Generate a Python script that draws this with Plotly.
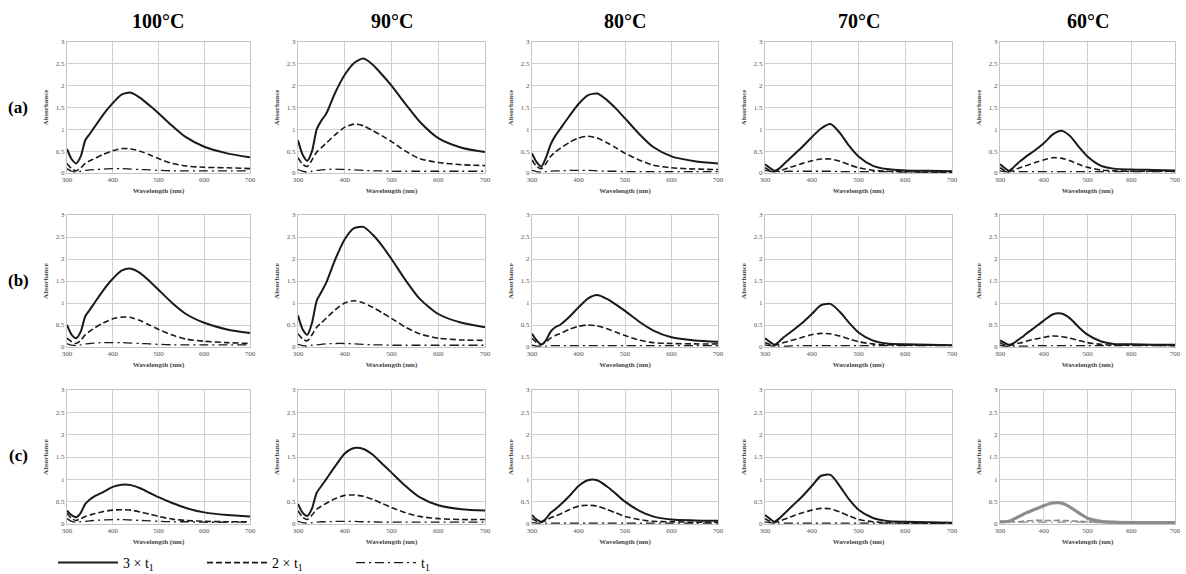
import plotly.graph_objects as go
from plotly.subplots import make_subplots

# ---------------- data ----------------
WL = [300, 310, 320, 330, 340, 350, 360, 380, 400, 420, 440, 460, 480, 500, 530, 560, 600, 650, 700]

TEMPS = ["100°C", "90°C", "80°C", "70°C", "60°C"]
ROWS = ["(a)", "(b)", "(c)"]
SERIES = ["3 × t<sub>1</sub>", "2 × t<sub>1</sub>", "t<sub>1</sub>"]
X_TICKS = [300, 400, 500, 600, 700]
Y_TICKS = [0, 0.5, 1, 1.5, 2, 2.5, 3]
Y_TICK_TEXT = ["0", "0.5", "1", "1.5", "2", "2.5", "3"]

# row (a)
A100_3 = [0.55, 0.32, 0.22, 0.38, 0.75, 0.90, 1.05, 1.35, 1.60, 1.80, 1.84, 1.72, 1.55, 1.37, 1.08, 0.82, 0.60, 0.45, 0.36]
A100_2 = [0.22, 0.10, 0.05, 0.12, 0.22, 0.28, 0.33, 0.43, 0.51, 0.56, 0.55, 0.50, 0.42, 0.33, 0.22, 0.16, 0.13, 0.12, 0.10]
A100_1 = [0.10, 0.04, 0.02, 0.04, 0.06, 0.07, 0.08, 0.09, 0.10, 0.10, 0.09, 0.08, 0.07, 0.06, 0.05, 0.05, 0.05, 0.05, 0.05]
A90_3 = [0.75, 0.42, 0.28, 0.50, 1.00, 1.20, 1.35, 1.85, 2.25, 2.52, 2.62, 2.48, 2.25, 2.00, 1.58, 1.18, 0.80, 0.58, 0.48]
A90_2 = [0.35, 0.20, 0.15, 0.30, 0.48, 0.58, 0.68, 0.88, 1.05, 1.12, 1.08, 0.97, 0.85, 0.72, 0.50, 0.33, 0.24, 0.19, 0.17]
A90_1 = [0.08, 0.04, 0.02, 0.04, 0.06, 0.07, 0.08, 0.09, 0.08, 0.07, 0.06, 0.05, 0.05, 0.04, 0.04, 0.04, 0.04, 0.04, 0.04]
A80_3 = [0.45, 0.25, 0.15, 0.35, 0.65, 0.85, 1.00, 1.30, 1.58, 1.78, 1.82, 1.68, 1.48, 1.25, 0.90, 0.60, 0.38, 0.27, 0.22]
A80_2 = [0.30, 0.15, 0.10, 0.22, 0.38, 0.48, 0.56, 0.70, 0.80, 0.84, 0.80, 0.70, 0.58, 0.45, 0.30, 0.18, 0.12, 0.09, 0.08]
A80_1 = [0.06, 0.03, 0.02, 0.03, 0.04, 0.05, 0.05, 0.06, 0.06, 0.06, 0.05, 0.04, 0.04, 0.03, 0.03, 0.03, 0.03, 0.03, 0.03]
A70_3 = [0.20, 0.12, 0.05, 0.10, 0.20, 0.30, 0.40, 0.60, 0.82, 1.02, 1.12, 0.92, 0.62, 0.38, 0.17, 0.09, 0.06, 0.05, 0.04]
A70_2 = [0.12, 0.06, 0.03, 0.05, 0.08, 0.12, 0.15, 0.22, 0.28, 0.32, 0.32, 0.27, 0.19, 0.12, 0.06, 0.04, 0.03, 0.02, 0.02]
A70_1 = [0.06, 0.04, 0.03, 0.03, 0.03, 0.04, 0.04, 0.04, 0.04, 0.04, 0.04, 0.03, 0.03, 0.03, 0.03, 0.03, 0.02, 0.02, 0.02]
A60_3 = [0.20, 0.12, 0.05, 0.12, 0.22, 0.30, 0.38, 0.52, 0.68, 0.88, 0.97, 0.85, 0.60, 0.38, 0.17, 0.10, 0.08, 0.07, 0.06]
A60_2 = [0.12, 0.06, 0.03, 0.06, 0.10, 0.14, 0.17, 0.24, 0.30, 0.35, 0.34, 0.28, 0.20, 0.13, 0.07, 0.05, 0.04, 0.04, 0.04]
A60_1 = [0.05, 0.03, 0.02, 0.03, 0.03, 0.03, 0.03, 0.03, 0.03, 0.03, 0.03, 0.03, 0.03, 0.03, 0.03, 0.03, 0.03, 0.03, 0.03]

# row (b)
B100_3 = [0.50, 0.28, 0.20, 0.35, 0.70, 0.85, 1.00, 1.30, 1.55, 1.74, 1.78, 1.68, 1.50, 1.30, 1.00, 0.75, 0.55, 0.40, 0.32]
B100_2 = [0.20, 0.12, 0.08, 0.15, 0.28, 0.36, 0.43, 0.55, 0.64, 0.68, 0.67, 0.60, 0.50, 0.40, 0.27, 0.18, 0.13, 0.10, 0.08]
B100_1 = [0.08, 0.04, 0.03, 0.05, 0.07, 0.08, 0.09, 0.10, 0.10, 0.10, 0.09, 0.08, 0.07, 0.06, 0.05, 0.05, 0.05, 0.05, 0.05]
B90_3 = [0.72, 0.40, 0.28, 0.55, 1.05, 1.25, 1.45, 2.00, 2.45, 2.70, 2.73, 2.55, 2.30, 2.00, 1.52, 1.10, 0.75, 0.55, 0.45]
B90_2 = [0.30, 0.18, 0.14, 0.28, 0.45, 0.55, 0.65, 0.85, 1.00, 1.05, 1.00, 0.90, 0.78, 0.65, 0.45, 0.30, 0.20, 0.16, 0.15]
B90_1 = [0.06, 0.03, 0.02, 0.04, 0.05, 0.06, 0.07, 0.08, 0.08, 0.07, 0.06, 0.05, 0.05, 0.04, 0.04, 0.04, 0.04, 0.04, 0.04]
B80_3 = [0.30, 0.15, 0.05, 0.15, 0.35, 0.45, 0.50, 0.68, 0.90, 1.10, 1.18, 1.10, 0.97, 0.82, 0.58, 0.38, 0.22, 0.15, 0.12]
B80_2 = [0.20, 0.10, 0.06, 0.12, 0.20, 0.26, 0.30, 0.40, 0.47, 0.50, 0.48, 0.42, 0.34, 0.26, 0.16, 0.10, 0.08, 0.07, 0.07]
B80_1 = [0.04, 0.02, 0.02, 0.02, 0.03, 0.03, 0.03, 0.03, 0.03, 0.03, 0.03, 0.03, 0.03, 0.03, 0.03, 0.03, 0.03, 0.03, 0.03]
B70_3 = [0.20, 0.12, 0.05, 0.12, 0.22, 0.30, 0.38, 0.55, 0.75, 0.95, 0.98, 0.80, 0.55, 0.33, 0.15, 0.08, 0.06, 0.05, 0.04]
B70_2 = [0.10, 0.06, 0.03, 0.06, 0.10, 0.13, 0.16, 0.22, 0.28, 0.31, 0.30, 0.25, 0.18, 0.12, 0.07, 0.05, 0.04, 0.04, 0.04]
B70_1 = [0.05, 0.03, 0.02, 0.02, 0.02, 0.02, 0.03, 0.03, 0.03, 0.03, 0.03, 0.03, 0.03, 0.03, 0.03, 0.03, 0.03, 0.03, 0.03]
B60_3 = [0.15, 0.10, 0.05, 0.08, 0.15, 0.22, 0.30, 0.45, 0.60, 0.74, 0.76, 0.65, 0.45, 0.28, 0.13, 0.07, 0.06, 0.05, 0.05]
B60_2 = [0.10, 0.05, 0.03, 0.05, 0.08, 0.10, 0.13, 0.18, 0.22, 0.25, 0.24, 0.20, 0.15, 0.10, 0.06, 0.04, 0.04, 0.04, 0.03]
B60_1 = [0.04, 0.02, 0.02, 0.02, 0.02, 0.02, 0.02, 0.03, 0.03, 0.03, 0.03, 0.03, 0.03, 0.03, 0.03, 0.03, 0.03, 0.03, 0.03]

# row (c)
C100_3 = [0.30, 0.20, 0.15, 0.25, 0.45, 0.55, 0.62, 0.72, 0.83, 0.88, 0.87, 0.80, 0.70, 0.60, 0.47, 0.36, 0.26, 0.20, 0.17]
C100_2 = [0.25, 0.12, 0.08, 0.12, 0.17, 0.20, 0.23, 0.28, 0.31, 0.32, 0.31, 0.27, 0.22, 0.17, 0.11, 0.08, 0.06, 0.05, 0.05]
C100_1 = [0.12, 0.06, 0.04, 0.05, 0.06, 0.07, 0.08, 0.09, 0.10, 0.10, 0.09, 0.08, 0.07, 0.06, 0.05, 0.05, 0.04, 0.04, 0.04]
C90_3 = [0.45, 0.25, 0.18, 0.35, 0.70, 0.85, 1.00, 1.30, 1.58, 1.70, 1.68, 1.55, 1.35, 1.15, 0.85, 0.60, 0.42, 0.33, 0.30]
C90_2 = [0.30, 0.15, 0.10, 0.20, 0.33, 0.40, 0.46, 0.57, 0.64, 0.65, 0.62, 0.55, 0.46, 0.37, 0.25, 0.17, 0.12, 0.10, 0.10]
C90_1 = [0.06, 0.03, 0.02, 0.03, 0.04, 0.05, 0.05, 0.06, 0.06, 0.06, 0.05, 0.05, 0.04, 0.04, 0.04, 0.04, 0.04, 0.04, 0.04]
C80_3 = [0.20, 0.10, 0.05, 0.12, 0.25, 0.33, 0.42, 0.62, 0.85, 0.98, 0.98, 0.85, 0.68, 0.50, 0.30, 0.17, 0.10, 0.08, 0.07]
C80_2 = [0.12, 0.06, 0.04, 0.08, 0.14, 0.18, 0.22, 0.32, 0.40, 0.42, 0.40, 0.33, 0.25, 0.17, 0.10, 0.06, 0.05, 0.04, 0.04]
C80_1 = [0.03, 0.02, 0.02, 0.02, 0.02, 0.02, 0.02, 0.02, 0.02, 0.02, 0.02, 0.02, 0.02, 0.02, 0.02, 0.02, 0.02, 0.02, 0.02]
C70_3 = [0.20, 0.12, 0.05, 0.12, 0.22, 0.32, 0.42, 0.62, 0.85, 1.08, 1.10, 0.85, 0.55, 0.32, 0.14, 0.07, 0.05, 0.04, 0.03]
C70_2 = [0.12, 0.06, 0.03, 0.06, 0.10, 0.14, 0.18, 0.25, 0.31, 0.35, 0.34, 0.27, 0.18, 0.10, 0.05, 0.03, 0.02, 0.02, 0.02]
C70_1 = [0.05, 0.03, 0.02, 0.02, 0.02, 0.02, 0.02, 0.02, 0.02, 0.02, 0.02, 0.02, 0.02, 0.02, 0.02, 0.02, 0.02, 0.02, 0.02]
C60_3 = [0.05, 0.05, 0.06, 0.10, 0.15, 0.20, 0.25, 0.33, 0.41, 0.47, 0.47, 0.38, 0.25, 0.13, 0.06, 0.04, 0.03, 0.03, 0.03]
C60_2 = [0.06, 0.05, 0.05, 0.05, 0.05, 0.06, 0.07, 0.08, 0.08, 0.08, 0.08, 0.07, 0.06, 0.05, 0.04, 0.03, 0.03, 0.03, 0.03]
C60_1 = [0.05, 0.04, 0.04, 0.04, 0.04, 0.04, 0.04, 0.04, 0.04, 0.04, 0.04, 0.04, 0.04, 0.04, 0.03, 0.03, 0.03, 0.03, 0.03]

PANELS = [
    [(A100_3, A100_2, A100_1), (A90_3, A90_2, A90_1), (A80_3, A80_2, A80_1), (A70_3, A70_2, A70_1), (A60_3, A60_2, A60_1)],
    [(B100_3, B100_2, B100_1), (B90_3, B90_2, B90_1), (B80_3, B80_2, B80_1), (B70_3, B70_2, B70_1), (B60_3, B60_2, B60_1)],
    [(C100_3, C100_2, C100_1), (C90_3, C90_2, C90_1), (C80_3, C80_2, C80_1), (C70_3, C70_2, C70_1), (C60_3, C60_2, C60_1)],
]

# ---------------- layout geometry ----------------
W, H = 1186, 574
COL_PX = [(67, 250), (298, 485), (532, 718), (765, 952), (1000, 1175)]
ROW_PX = [(42, 173), (215, 347), (390, 524)]

SERIF = "Liberation Serif, Times New Roman, serif"
STYLES = [
    dict(color="#1a1a1a", width=2.0, dash="solid"),
    dict(color="#1a1a1a", width=1.6, dash="6px,3px"),
    dict(color="#1a1a1a", width=1.3, dash="9px,4px,2px,4px"),
]

fig = make_subplots(rows=3, cols=5)

for r in range(3):
    for c in range(5):
        for s in range(3):
            st = dict(STYLES[s])
            if r == 2 and c == 4:
                st["color"] = "#8c8c8c"
                if s == 0:
                    st["width"] = 3.2
            fig.add_trace(
                go.Scatter(
                    x=WL, y=PANELS[r][c][s], mode="lines",
                    line=dict(shape="spline", smoothing=0.7, **st),
                    name=SERIES[s], legendgroup=SERIES[s],
                    showlegend=(r == 0 and c == 0),
                ),
                row=r + 1, col=c + 1,
            )
        n = r * 5 + c + 1
        sfx = "" if n == 1 else str(n)
        x0, x1 = COL_PX[c]
        y0, y1 = ROW_PX[r]
        fig.layout["xaxis" + sfx].update(
            domain=[x0 / W, x1 / W], range=[300, 700], tickvals=X_TICKS,
            showgrid=True, gridcolor="#d0d0d0", gridwidth=1,
            showline=True, linecolor="#c4c4c4", mirror=True, zeroline=False,
            ticks="", tickfont=dict(family=SERIF, size=7, color="#555"),
            title=dict(text="<b>Wavelength (nm)</b>", standoff=4,
                       font=dict(family=SERIF, size=7, color="#444")),
        )
        fig.layout["yaxis" + sfx].update(
            domain=[1 - y1 / H, 1 - y0 / H], range=[0, 3],
            tickvals=Y_TICKS, ticktext=Y_TICK_TEXT,
            showgrid=True, gridcolor="#d0d0d0", gridwidth=1,
            showline=True, linecolor="#c4c4c4", mirror=True, zeroline=False,
            ticks="", tickfont=dict(family=SERIF, size=7, color="#555"),
            title=dict(text="<b>Absorbance</b>", standoff=6,
                       font=dict(family=SERIF, size=7, color="#444")),
        )

annotations = []
for c, t in enumerate(TEMPS):
    x0, x1 = COL_PX[c]
    annotations.append(dict(
        text="<b>%s</b>" % t, x=(x0 + x1) / 2 / W, y=1 - 21 / H, xref="paper", yref="paper",
        showarrow=False, font=dict(family=SERIF, size=20, color="#000"),
        xanchor="center", yanchor="middle"))
for r, lab in enumerate(ROWS):
    y0, y1 = ROW_PX[r]
    annotations.append(dict(
        text="<b>%s</b>" % lab, x=18 / W, y=1 - (y0 + 65) / H, xref="paper", yref="paper",
        showarrow=False, font=dict(family=SERIF, size=17, color="#000"),
        xanchor="center", yanchor="middle"))

fig.update_layout(
    width=W, height=H,
    margin=dict(l=0, r=0, t=0, b=0, autoexpand=False),
    paper_bgcolor="white", plot_bgcolor="white",
    annotations=annotations,
    legend=dict(orientation="h", x=53 / W, y=-5 / H, xanchor="left", yanchor="bottom",
                font=dict(family=SERIF, size=14, color="#000"),
                entrywidth=74, entrywidthmode="pixels",
                bgcolor="rgba(0,0,0,0)", itemwidth=60),
)

fig.write_html("out.html", config={"displayModeBar": False},
               post_script="document.body.style.margin='0';")
